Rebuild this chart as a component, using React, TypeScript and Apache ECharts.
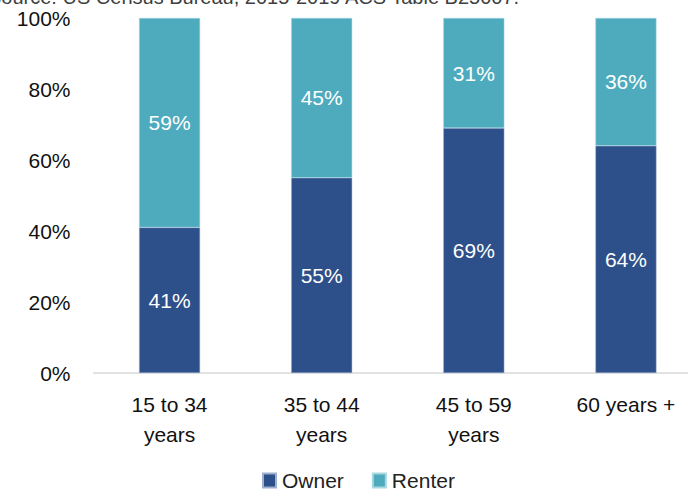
import React, { useEffect, useRef } from "react";
import * as echarts from "echarts";

const categories = ["15 to 34\nyears", "35 to 44\nyears", "45 to 59\nyears", "60 years +"];
const ownerValues = [41, 55, 69, 64];
const renterValues = [59, 45, 31, 36];
const yTicks = [0, 20, 40, 60, 80, 100];
const sourceText = "Source: US Census Bureau, 2015-2019 ACS Table B25007.";

const FONT = "Liberation Sans";

export default function App() {
  const ref = useRef<HTMLDivElement>(null);
  useEffect(() => {
    if (!ref.current) return;
    const chart = echarts.init(ref.current, undefined, { renderer: "svg" });
    chart.setOption({
      animation: false,
      textStyle: { fontFamily: FONT },
      graphic: [
        {
          type: "text",
          x: -12,
          y: 7,
          style: {
            text: sourceText,
            fontFamily: FONT,
            fontSize: 20,
            fill: "#404040",
            verticalAlign: "bottom",
          },
        },
      ],
      grid: { left: 93.5, right: -14, top: 18, bottom: 118, outerBoundsMode: "none" },
      legend: {
        bottom: -5,
        left: 257,
        itemWidth: 13,
        itemHeight: 14,
        itemGap: 28,
        icon: "rect",
        textStyle: {
          fontSize: 21,
          lineHeight: 20,
          color: "#222",
          fontFamily: FONT,
          padding: [0, 0, 0, 1],
        },
        data: ["Owner", "Renter"],
      },
      xAxis: {
        type: "category",
        data: categories,
        axisLine: { lineStyle: { color: "#D9D9D9", width: 1.5 } },
        axisTick: { show: false },
        axisLabel: {
          fontSize: 21,
          color: "#111",
          lineHeight: 30,
          margin: 16,
          fontFamily: FONT,
          verticalAlign: "top",
        },
      },
      yAxis: {
        type: "value",
        min: 0,
        max: 100,
        interval: 20,
        axisLine: { show: false },
        axisTick: { show: false },
        splitLine: { show: false },
        axisLabel: {
          fontSize: 21,
          color: "#111",
          margin: 23,
          fontFamily: FONT,
          formatter: (v: number) => (yTicks.includes(v) ? v + "%" : ""),
        },
      },
      series: [
        {
          name: "Owner",
          type: "bar",
          stack: "total",
          barWidth: 61,
          data: ownerValues,
          itemStyle: { color: "#2D4F8A", borderColor: "#9DB0CF", borderWidth: 0.5 },
          label: {
            show: true,
            position: "inside",
            formatter: "{c}%",
            color: "#fff",
            fontSize: 21,
            fontFamily: FONT,
          },
        },
        {
          name: "Renter",
          type: "bar",
          stack: "total",
          barWidth: 61,
          data: renterValues,
          itemStyle: { color: "#4EABBE", borderColor: "#A9D7E0", borderWidth: 0.5 },
          label: {
            show: true,
            position: "inside",
            formatter: "{c}%",
            color: "#fff",
            fontSize: 21,
            fontFamily: FONT,
          },
        },
      ],
    });
    return () => chart.dispose();
  }, []);
  return (
    <div
      ref={ref}
      style={{ position: "fixed", left: 0, top: 0, width: 688, height: 491, background: "#fff" }}
    />
  );
}
